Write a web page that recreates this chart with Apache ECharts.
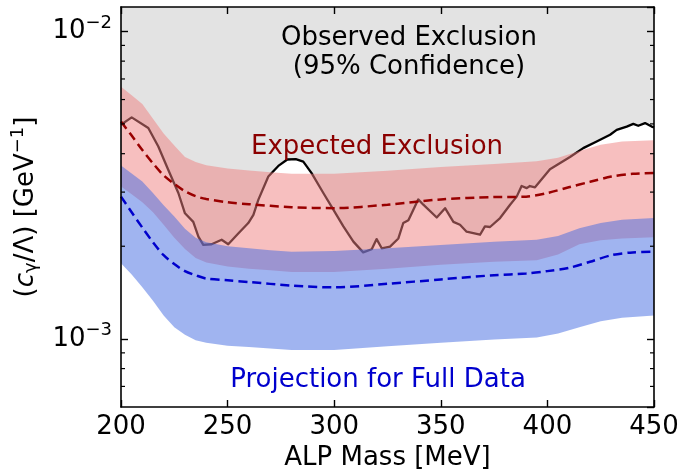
<!DOCTYPE html>
<html><head><meta charset="utf-8">
<script src="https://cdn.jsdelivr.net/npm/echarts@6/dist/echarts.min.js"></script>
<style>html,body{margin:0;padding:0;background:#fff}#c{width:681px;height:469px}</style>
</head><body><div id="c"></div>
<script>
// ---- data ----
const bandMass = [200,205,210,215,220,225,230,235,240,250,260,270,280,300,325,350,375,395,405,415,425,435,450];
// Expected exclusion band (red)
const expHi = [6.6e-3,6.2e-3,5.8e-3,5.2e-3,4.65e-3,4.25e-3,3.9e-3,3.76e-3,3.67e-3,3.58e-3,3.53e-3,3.48e-3,3.44e-3,3.44e-3,3.52e-3,3.62e-3,3.7e-3,3.78e-3,3.88e-3,4.08e-3,4.28e-3,4.38e-3,4.42e-3];
const expLo = [3.13e-3,2.95e-3,2.78e-3,2.58e-3,2.35e-3,2.13e-3,1.96e-3,1.83e-3,1.77e-3,1.72e-3,1.69e-3,1.67e-3,1.65e-3,1.65e-3,1.69e-3,1.74e-3,1.78e-3,1.80e-3,1.88e-3,2.03e-3,2.09e-3,2.12e-3,2.14e-3];
// Projection band (blue)
const projHi = [3.66e-3,3.45e-3,3.25e-3,2.98e-3,2.72e-3,2.5e-3,2.28e-3,2.13e-3,2.06e-3,2.0e-3,1.97e-3,1.94e-3,1.92e-3,1.93e-3,1.97e-3,2.02e-3,2.07e-3,2.1e-3,2.16e-3,2.29e-3,2.38e-3,2.44e-3,2.47e-3];
const projLo = [1.76e-3,1.62e-3,1.47e-3,1.33e-3,1.19e-3,1.09e-3,1.03e-3,9.9e-4,9.7e-4,9.5e-4,9.4e-4,9.3e-4,9.2e-4,9.2e-4,9.45e-4,9.7e-4,9.95e-4,1.01e-3,1.04e-3,1.09e-3,1.14e-3,1.17e-3,1.19e-3];
// Median lines
const medMass = [200,205,210,215,220,225,230,235,240,250,260,280,300,325,350,375,390,400,410,420,430,440,450];
const expMed  = [5.09e-3,4.58e-3,4.11e-3,3.72e-3,3.40e-3,3.19e-3,3.02e-3,2.91e-3,2.85e-3,2.78e-3,2.74e-3,2.68e-3,2.66e-3,2.73e-3,2.84e-3,2.89e-3,2.90e-3,2.98e-3,3.11e-3,3.24e-3,3.37e-3,3.44e-3,3.46e-3];
const projMed = [2.90e-3,2.58e-3,2.30e-3,2.06e-3,1.87e-3,1.75e-3,1.66e-3,1.61e-3,1.57e-3,1.55e-3,1.53e-3,1.49e-3,1.47e-3,1.51e-3,1.56e-3,1.61e-3,1.63e-3,1.66e-3,1.70e-3,1.78e-3,1.87e-3,1.91e-3,1.92e-3];
// Observed limit
const obsMass = [200,205,212.8,217.5,222.2,226.9,230,233.9,236.3,238.6,242.5,247.2,250.3,255,259.7,262.1,264.4,269.1,273.8,278,282,285.5,289.4,294.9,299.6,304.3,309,313.6,317.6,319.9,322.3,326.2,330.1,332.4,334.8,339.4,341.8,348.1,352,355.9,359,362.1,368.4,370.7,373.1,377.8,382.5,385.6,387.9,390.3,391.8,394.2,401.2,410.6,416.8,423.1,429.4,432.5,437.2,440.3,442.6,445.8,448.9,450];
const obsVal  = [4.97e-3,5.25e-3,4.85e-3,4.22e-3,3.54e-3,2.98e-3,2.56e-3,2.40e-3,2.15e-3,2.02e-3,2.03e-3,2.10e-3,2.03e-3,2.20e-3,2.38e-3,2.53e-3,2.83e-3,3.37e-3,3.65e-3,3.83e-3,3.84e-3,3.77e-3,3.46e-3,2.98e-3,2.63e-3,2.32e-3,2.07e-3,1.91e-3,1.955e-3,2.11e-3,1.97e-3,1.995e-3,2.12e-3,2.38e-3,2.43e-3,2.84e-3,2.73e-3,2.48e-3,2.66e-3,2.40e-3,2.35e-3,2.23e-3,2.18e-3,2.32e-3,2.31e-3,2.47e-3,2.73e-3,2.90e-3,3.14e-3,3.09e-3,3.14e-3,3.11e-3,3.56e-3,3.90e-3,4.17e-3,4.38e-3,4.61e-3,4.78e-3,4.90e-3,5.00e-3,4.93e-3,5.03e-3,4.90e-3,4.87e-3];
// Axis ticks
const xTicks = [200,250,300,350,400,450];
const yMinorTicks = [7e-4,8e-4,9e-4,2e-3,3e-3,4e-3,5e-3,6e-3,7e-3,8e-3,9e-3];

const FONT = 'DejaVu Sans';
const pair = (xs, ys) => xs.map((x, i) => [x, ys[i]]);

function band(lo, hi, color, z) {
  return {
    type: 'custom', silent: true, z: z, data: [[bandMass[0], lo[0]]],
    renderItem: function (params, api) {
      const pts = [];
      for (let i = 0; i < bandMass.length; i++) pts.push(api.coord([bandMass[i], hi[i]]));
      for (let i = bandMass.length - 1; i >= 0; i--) pts.push(api.coord([bandMass[i], lo[i]]));
      return { type: 'polygon', shape: { points: pts }, style: { fill: color } };
    }
  };
}

const supLabel = v => {
  const e = Math.round(Math.log10(v));
  if (Math.abs(Math.log10(v) - e) > 1e-6) return '';
  return '{b|10}{s|−' + Math.abs(e) + '}';
};
const yRich = {
  b: { fontFamily: FONT, fontSize: 26, color: '#000' },
  s: { fontFamily: FONT, fontSize: 18, color: '#000', padding: [0, 0, 16, 0] }
};
const txt = (x, y, text, fill) => ({
  type: 'text', x: x, y: y, z: 100, silent: true,
  style: { text: text, font: '26px "DejaVu Sans"', fill: fill, align: 'center', verticalAlign: 'middle', textAlign: 'center', textVerticalAlign: 'middle' }
});

const chart = echarts.init(document.getElementById('c'), null, { renderer: 'canvas' });
chart.setOption({
  animation: false,
  backgroundColor: '#fff',
  grid: { left: 121, right: 27, top: 7, bottom: 62, containLabel: false, outerBoundsMode: 'none' },
  xAxis: [{
    type: 'value', min: xTicks[0], max: xTicks[xTicks.length - 1], interval: 50,
    name: 'ALP Mass [MeV]', nameLocation: 'middle', nameGap: 37,
    nameTextStyle: { fontFamily: FONT, fontSize: 26, color: '#000' },
    axisLine: { show: true, lineStyle: { color: '#000', width: 1.6 } },
    axisTick: { show: true, inside: true, length: 7, lineStyle: { color: '#000', width: 1.4 } },
    axisLabel: { margin: 7, fontFamily: FONT, fontSize: 26, color: '#000' },
    splitLine: { show: false }, z: 50
  }, {
    type: 'value', position: 'top', min: xTicks[0], max: xTicks[xTicks.length - 1], interval: 50,
    axisLine: { show: true, lineStyle: { color: '#000', width: 1.6 } },
    axisTick: { show: true, inside: true, length: 7, lineStyle: { color: '#000', width: 1.4 } },
    axisLabel: { show: false }, splitLine: { show: false }, z: 50
  }],
  yAxis: [{
    type: 'log', logBase: 10, min: 6e-4, max: 1.2e-2,
    name: '{t|(}{i|c}{sub|γ}{t|/Λ) [GeV}{sup|−1}{t|]}',
    nameLocation: 'middle', nameRotate: 90, nameGap: 78,
    nameTextStyle: {
      fontFamily: FONT, fontSize: 26, color: '#000',
      rich: {
        t: { fontFamily: FONT, fontSize: 26, color: '#000' },
        i: { fontFamily: FONT, fontSize: 26, color: '#000', fontStyle: 'italic' },
        sub: { fontFamily: FONT, fontSize: 18, color: '#000', padding: [10, 0, 0, 0] },
        sup: { fontFamily: FONT, fontSize: 18, color: '#000', padding: [0, 0, 16, 0] }
      }
    },
    axisLine: { show: true, lineStyle: { color: '#000', width: 1.6 } },
    axisTick: { show: true, inside: true, length: 7, lineStyle: { color: '#000', width: 1.4 } },
    axisLabel: { margin: 9, formatter: supLabel, rich: yRich, showMinLabel: false, showMaxLabel: false },
    splitLine: { show: false }, z: 50
  }, {
    type: 'log', logBase: 10, min: 6e-4, max: 1.2e-2, position: 'right',
    axisLine: { show: true, lineStyle: { color: '#000', width: 1.6 } },
    axisTick: { show: true, inside: true, length: 7, lineStyle: { color: '#000', width: 1.4 } },
    axisLabel: { show: false }, splitLine: { show: false }, z: 50
  }],
  series: [
    {
      type: 'line', z: 1, data: pair(obsMass, obsVal), showSymbol: false, silent: true,
      lineStyle: { color: '#000', width: 2.3, join: 'round' },
      areaStyle: { origin: 'end', color: '#e3e3e3', opacity: 1 }
    },
    band(expLo, expHi, 'rgba(240,128,128,0.5)', 3),
    band(projLo, projHi, 'rgba(65,105,225,0.5)', 4),
    {
      type: 'line', z: 5, data: pair(medMass, expMed), showSymbol: false, silent: true, smooth: 0.3,
      lineStyle: { color: '#990000', width: 2.5, type: [9, 5] }
    },
    {
      type: 'line', z: 5, data: pair(medMass, projMed), showSymbol: false, silent: true, smooth: 0.3,
      lineStyle: { color: '#0000cc', width: 2.5, type: [9, 5] }
    },
    {
      type: 'custom', z: 50, silent: true, data: yMinorTicks.map(v => [xTicks[0], v]),
      renderItem: function (params, api) {
        const v = api.value(1);
        const l = api.coord([xTicks[0], v]);
        const r = api.coord([xTicks[xTicks.length - 1], v]);
        return {
          type: 'group', children: [
            { type: 'line', shape: { x1: l[0], y1: l[1], x2: l[0] + 4, y2: l[1] }, style: { stroke: '#000', lineWidth: 1.2 } },
            { type: 'line', shape: { x1: r[0], y1: r[1], x2: r[0] - 4, y2: r[1] }, style: { stroke: '#000', lineWidth: 1.2 } }
          ]
        };
      }
    }
  ],
  graphic: [
    txt(409, 38, 'Observed Exclusion', '#000'),
    txt(409, 67, '(95% Confidence)', '#000'),
    txt(377, 147, 'Expected Exclusion', '#8b0000'),
    txt(378, 380, 'Projection for Full Data', '#0000cd')
  ]
});
</script>
</body></html>
